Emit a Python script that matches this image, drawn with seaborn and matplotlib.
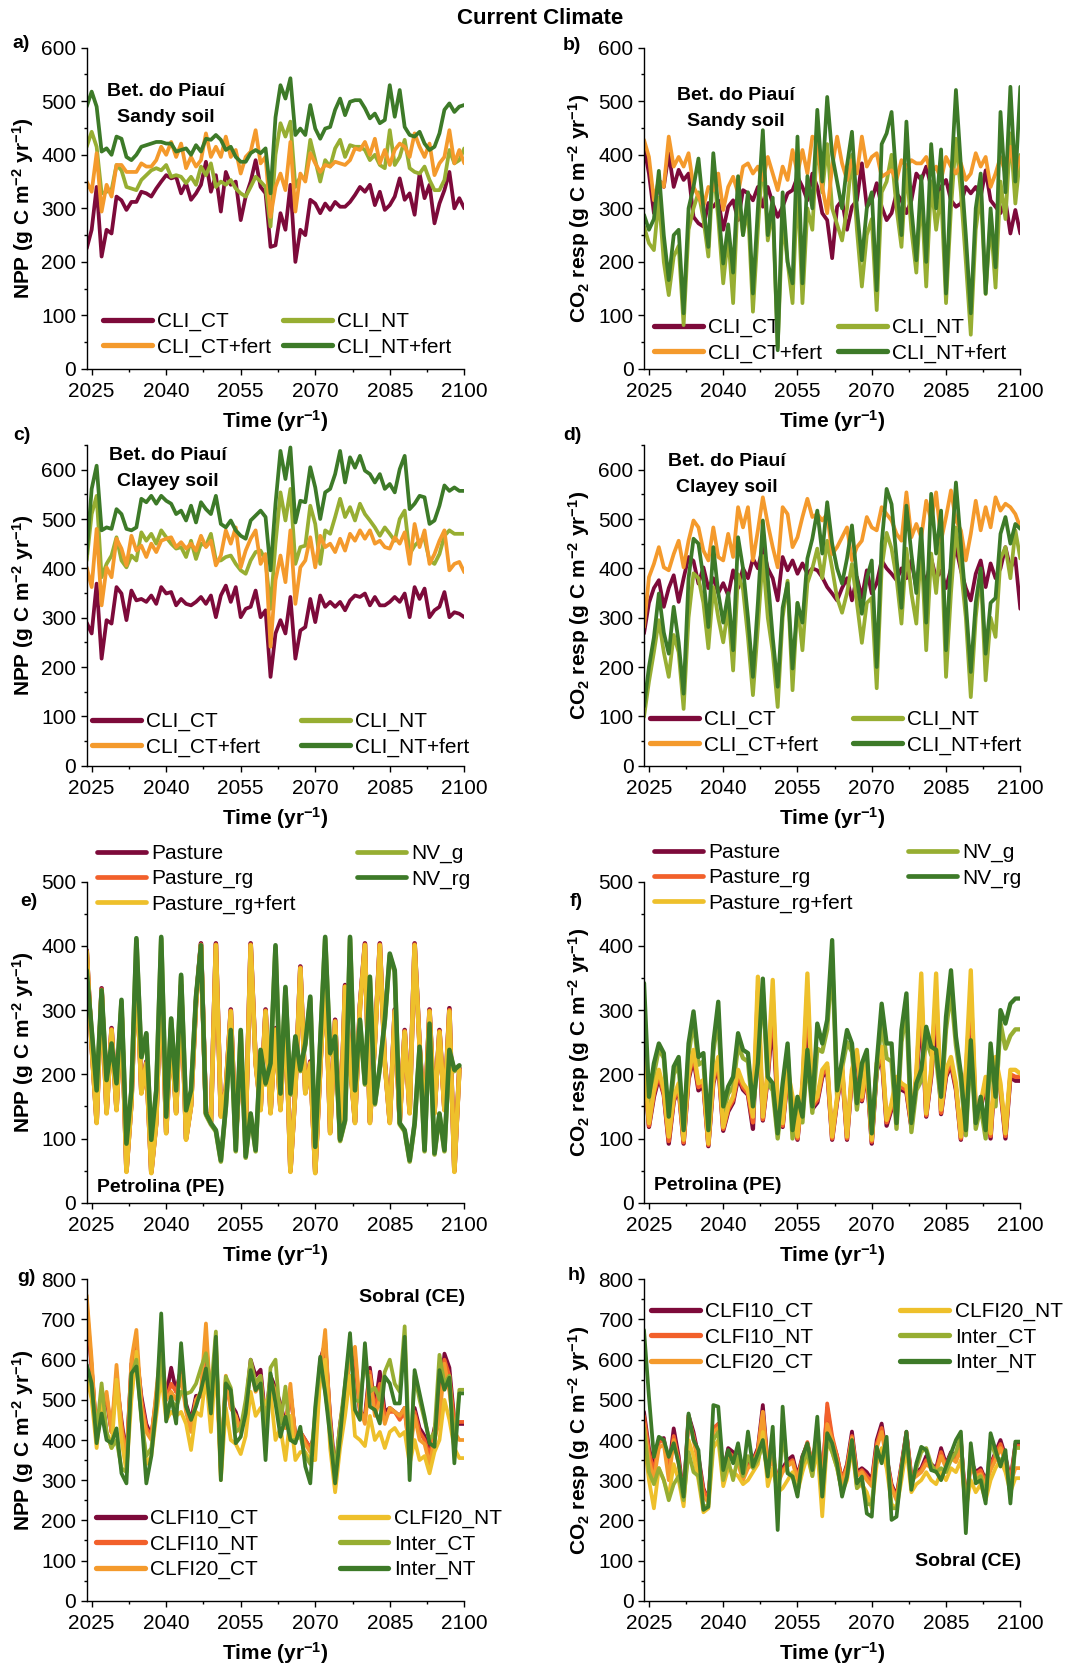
import numpy as np
import pandas as pd
import seaborn as sns
import matplotlib.pyplot as plt
from matplotlib.lines import Line2D
from matplotlib.ticker import MultipleLocator

# ---------------------------------------------------------------- data
years = list(range(2024, 2101))
years_e = list(range(2024, 2100))

# a) NPP, Bet. do Piaui, sandy soil
a_ct = [225,260,340,210,260,253,322,315,297,312,312,331,328,322,337,350,362,356,359,328,
        347,316,328,344,387,331,362,294,368,344,350,278,322,350,390,340,328,228,231,291,
        260,344,200,260,250,316,309,291,309,297,312,303,303,312,325,340,331,344,306,331,
        297,306,322,356,316,328,288,365,319,344,272,309,334,368,300,319,300]
a_ctf = [350,331,403,294,344,322,381,381,368,368,368,384,378,378,390,415,400,424,396,421,
         375,396,378,390,440,396,415,396,434,396,409,365,396,406,446,384,396,284,340,365,
         334,424,294,365,350,403,384,368,381,378,387,384,381,390,412,409,424,400,430,384,
         409,381,409,421,415,396,440,415,396,421,362,384,396,446,384,409,384]
a_nt = [415,443,415,328,331,334,381,371,340,337,334,353,362,371,375,371,381,359,362,359,
        347,359,344,378,362,384,340,350,344,353,337,328,322,340,359,350,340,266,400,459,
        434,462,340,359,356,428,390,350,390,378,412,428,396,418,415,415,409,390,400,381,
        375,446,381,396,428,375,368,365,378,353,334,334,353,409,384,390,412]
a_ntf = [490,518,490,406,412,400,434,430,396,390,400,415,418,421,424,424,421,421,406,409,
         412,400,418,406,430,428,437,428,409,415,396,387,387,403,409,403,412,328,470,530,
         505,543,437,449,437,493,449,430,449,452,484,505,474,499,502,502,487,468,477,459,
         465,530,471,521,452,437,434,443,421,409,415,440,484,496,480,490,493]

# b) CO2 resp, Bet. do Piaui, sandy soil
b_ct = [415,365,291,353,340,403,340,372,353,365,284,272,266,310,303,315,260,303,315,278,
        334,328,315,340,303,340,309,284,303,328,334,359,340,315,365,340,291,278,207,303,
        315,260,303,315,384,303,315,347,303,278,291,328,315,291,315,365,353,378,340,315,
        340,353,315,303,309,340,328,340,322,371,315,303,291,315,253,297,253]
b_ctf = [428,396,315,353,340,434,378,396,378,403,340,322,303,340,334,365,297,340,359,328,
         378,384,365,378,353,396,365,334,378,353,409,365,409,365,434,428,340,291,378,434,
         384,353,390,365,434,378,396,403,359,365,371,353,390,378,390,384,384,396,365,378,
         353,396,378,365,384,353,365,403,378,396,340,365,396,365,415,365,396]
b_nt = [266,235,222,320,200,138,210,230,82,260,300,330,280,210,380,280,160,250,123,330,
        250,300,107,260,400,240,300,40,280,200,123,350,123,300,260,430,330,420,300,270,
        240,300,400,260,154,250,280,110,330,350,400,300,228,380,260,180,330,154,350,260,
        330,123,300,430,330,200,64,260,330,140,280,152,350,280,440,309,400]
b_ntf = [288,260,280,370,250,166,250,260,104,300,340,393,300,228,403,300,197,270,180,360,
         250,330,141,300,446,250,320,35,330,200,160,434,160,360,300,484,350,508,400,350,
         300,380,443,300,203,300,330,147,420,440,480,350,250,462,300,203,360,200,420,300,
         410,141,350,521,380,250,104,300,365,141,300,190,480,330,527,350,527]

# c) NPP, Bet. do Piaui, clayey soil
c_ct = [290,268,369,217,295,288,362,349,295,355,335,338,332,345,328,362,349,352,325,338,
        328,325,332,342,328,345,301,345,365,332,362,301,318,322,355,301,315,180,268,295,
        268,342,217,274,281,338,291,345,322,332,322,332,315,335,345,342,349,325,342,325,
        325,332,342,332,349,301,362,338,359,301,315,322,352,301,311,308,301]
c_ctf = [402,362,480,325,402,382,460,440,406,466,436,446,423,450,433,456,460,463,443,453,
         440,450,436,466,443,456,406,426,477,450,483,402,436,460,477,409,429,241,376,426,
         372,477,328,402,416,463,402,466,443,450,433,460,436,470,456,477,460,477,450,456,
         443,440,463,450,473,409,490,443,477,409,429,456,477,396,409,413,392]
c_nt = [416,510,547,382,409,426,463,416,402,426,416,473,456,470,450,477,463,450,440,443,
        423,456,419,450,446,470,416,416,423,426,409,396,389,416,433,436,416,318,450,554,
        497,561,409,443,446,527,490,409,477,470,504,541,504,524,497,531,510,497,483,466,
        483,470,456,500,517,429,446,456,460,416,409,429,466,477,470,470,470]
c_ntf = [429,561,608,477,483,480,520,510,480,477,483,541,534,547,531,547,537,531,510,517,
         497,527,493,534,520,510,547,490,483,497,477,466,460,497,507,517,504,396,531,638,
         581,645,493,537,534,605,564,500,554,561,591,638,574,625,604,628,598,591,574,591,
         561,571,554,601,628,520,531,547,544,490,497,527,568,557,564,557,557]

# d) CO2 resp, Bet. do Piaui, clayey soil
d_ct = [268,330,360,376,322,360,386,332,380,423,415,369,402,360,380,350,370,345,396,360,
        400,380,420,400,443,400,380,335,423,396,416,389,410,389,400,396,382,362,349,335,
        360,380,335,382,340,396,349,370,416,400,389,376,400,380,416,360,400,370,420,380,
        396,360,400,443,396,360,335,389,416,362,410,380,400,443,400,420,318]
d_ctf = [281,382,409,443,402,396,429,456,402,456,497,483,436,416,483,423,416,470,423,524,
         483,524,416,477,544,490,443,402,524,510,443,463,504,541,504,510,497,510,429,443,
         463,483,416,443,456,504,483,477,524,510,497,470,456,554,463,490,463,537,497,554,
         456,504,558,497,477,416,470,537,477,524,483,544,517,531,524,510,483]
d_nt = [99,170,230,295,230,180,265,230,115,300,390,380,330,238,362,300,250,320,193,388,
        357,260,143,280,425,300,230,119,300,375,153,330,234,370,400,440,380,456,400,340,
        310,350,409,330,249,330,340,157,400,472,440,380,288,440,350,288,447,234,430,350,
        463,180,350,483,400,300,139,300,395,173,300,261,420,443,380,477,420]
d_ntf = [120,200,260,349,270,227,322,250,146,380,460,450,380,281,443,350,290,350,234,463,
         400,300,180,330,497,380,260,160,320,370,197,330,290,420,460,517,430,534,450,400,
         369,420,487,380,308,380,416,200,450,561,530,420,320,527,430,350,480,290,551,430,
         517,234,420,574,450,330,190,330,400,227,330,340,470,504,450,490,480]

# e) NPP, Petrolina (2024-2099)
e_past = [393,245,126,334,141,272,146,303,50,157,376,172,220,48,126,365,110,272,141,339,
          100,152,313,404,141,126,404,136,177,301,100,230,115,404,220,146,301,141,272,146,
          301,50,177,368,172,220,48,210,365,110,285,100,339,220,126,308,404,126,251,404,
          220,126,301,126,269,141,404,246,126,301,141,269,146,303,50,210]
e_rg = [392,244,125,332,140,270,145,301,49,156,374,171,218,47,125,363,109,270,140,337,
        99,151,311,402,140,125,402,135,176,299,99,228,114,402,218,145,299,140,270,145,
        299,49,176,366,171,218,47,208,363,109,283,99,337,218,125,306,402,125,249,402,
        218,125,299,125,267,140,402,244,125,299,140,267,145,300,49,208]
e_rgf = [391,243,124,331,139,269,144,300,48,155,373,170,217,46,124,362,108,269,139,336,
         98,150,310,401,139,124,401,134,175,298,98,227,113,401,217,144,298,139,269,144,
         298,48,175,365,170,217,46,207,362,108,282,98,336,217,124,305,401,124,248,401,
         217,124,298,124,266,139,401,243,124,298,139,266,144,298,48,207]
e_nvg = [360,266,172,328,189,246,184,313,90,173,409,225,262,96,173,411,132,285,173,352,
         142,173,318,398,137,122,111,64,148,266,80,266,70,137,80,236,184,215,398,168,
         333,168,257,205,246,318,85,248,411,231,257,96,127,411,173,283,184,349,153,210,
         283,385,359,122,111,64,122,241,80,276,75,137,80,236,205,212]
e_nvrg = [362,269,175,331,191,248,186,316,92,175,412,227,264,98,175,414,134,287,175,355,
          144,175,321,401,139,124,113,66,150,269,82,269,72,139,82,238,186,217,401,170,
          336,170,259,207,248,321,87,250,414,233,259,98,129,414,175,285,186,352,155,212,
          285,388,362,124,113,66,124,243,82,279,77,139,82,238,207,214]

# f) CO2 resp, Petrolina
f_past = [215,118,165,195,168,92,158,178,92,192,225,175,182,88,186,215,112,142,156,195,
          176,168,115,300,128,196,290,146,118,196,150,98,176,300,146,156,196,206,98,158,
          206,98,196,225,158,205,92,205,230,120,146,186,176,172,118,190,300,134,196,290,
          138,196,215,176,98,196,300,138,146,186,100,215,176,100,196,190,190]
f_rg = [220,120,170,200,170,96,160,182,94,196,232,180,186,90,190,220,115,146,160,200,
        180,170,125,330,130,200,320,150,120,200,156,100,180,330,150,160,200,212,100,160,
        210,100,200,232,160,210,95,210,236,125,150,190,180,176,120,196,330,136,200,330,
        140,200,220,180,100,200,330,140,150,190,104,220,180,104,200,196,196]
f_rgf = [227,124,175,207,175,103,165,186,98,201,238,186,191,92,196,227,118,150,165,207,
         186,175,134,352,134,207,347,155,124,207,165,103,186,357,155,165,207,217,103,165,
         217,103,207,238,165,217,98,217,243,129,155,196,186,181,124,201,357,139,207,357,
         145,207,227,186,103,207,362,145,155,196,108,227,186,108,207,207,201]
f_nvg = [300,150,200,240,225,125,200,215,108,230,285,215,220,105,235,290,140,170,180,245,
         225,220,140,230,330,185,175,100,175,235,100,155,125,230,140,240,235,270,380,165,
         210,250,235,145,205,225,100,205,280,225,220,115,250,300,110,175,190,255,230,225,
         155,270,330,245,190,105,240,115,150,100,235,150,280,240,260,270,270]
f_nvrg = [342,165,217,248,233,134,212,227,113,248,298,227,233,113,248,313,150,181,196,264,
          238,233,150,217,349,196,186,108,186,248,113,165,134,238,150,279,248,285,409,175,
          222,269,248,155,217,238,108,217,310,248,248,124,269,326,124,186,207,274,243,238,
          165,290,362,259,201,113,253,124,165,113,248,165,300,279,310,318,318]

# g) NPP, Sobral
g_c10ct = [720,580,420,470,500,420,550,450,360,590,620,510,440,410,500,600,510,580,520,580,
           490,450,510,510,640,500,620,330,540,490,470,430,480,600,560,575,450,560,530,490,
           440,520,410,420,400,380,420,600,640,460,320,440,520,600,600,470,460,580,480,570,
           470,480,470,460,480,380,480,430,410,370,430,480,615,580,450,440,440]
g_c10nt = [740,580,410,470,510,420,560,440,350,580,630,500,430,410,510,620,500,540,520,570,
           480,440,500,510,650,490,630,320,550,480,460,420,480,590,540,560,440,550,520,480,
           430,520,410,420,400,380,410,570,650,450,310,430,530,600,610,470,450,570,470,540,
           460,470,470,450,470,370,470,420,400,360,420,470,600,560,440,445,445]
g_c20ct = [760,600,400,480,520,420,587,430,340,600,674,480,420,400,520,640,500,520,500,560,
           470,420,500,520,690,480,640,310,560,480,460,420,470,580,520,540,430,550,520,480,
           430,540,400,420,390,370,400,560,674,440,300,420,520,600,632,480,440,560,460,500,
           440,480,470,460,480,360,460,400,390,340,400,450,590,520,420,400,400]
g_c20nt = [560,500,380,500,420,380,550,400,320,500,620,470,340,360,460,560,450,470,460,470,
           440,375,470,460,560,420,600,300,480,400,390,365,410,520,460,480,490,520,400,430,
           350,460,350,370,370,350,350,560,600,380,270,380,460,560,410,400,385,460,400,420,
           380,420,430,410,420,340,400,350,360,317,370,400,500,450,380,355,355]
g_ict = [587,530,420,541,420,380,400,330,320,560,600,450,360,380,480,610,470,500,480,520,
         515,520,540,580,616,520,670,330,558,530,420,430,500,600,540,560,420,580,600,440,
         533,400,400,410,360,340,470,590,520,430,320,440,540,640,500,495,600,520,530,500,
         570,600,540,520,683,340,560,500,450,400,420,612,540,560,380,525,525]
g_int = [587,541,392,466,400,392,429,317,292,566,583,458,292,359,483,715,446,508,441,641,
         483,450,483,524,578,466,657,300,541,524,392,408,466,574,524,541,350,566,491,408,
         458,400,392,433,334,292,483,607,516,408,292,408,541,666,475,450,641,483,475,441,
         558,541,491,491,657,300,574,516,458,392,383,574,525,555,342,516,516]

# h) CO2 resp, Sobral
h_c10ct = [470,380,330,400,405,330,429,360,260,462,420,360,280,250,420,440,320,380,370,360,
           320,340,350,380,487,340,360,300,330,350,360,310,360,390,340,420,300,480,400,360,
           300,340,421,320,330,320,300,400,441,360,290,260,340,420,310,320,330,360,340,330,
           380,340,370,360,400,240,350,320,330,300,340,370,400,360,300,390,390]
h_c10nt = [460,370,320,395,400,320,410,350,255,455,410,350,275,250,430,440,315,370,360,350,
           315,335,345,375,470,335,355,295,325,340,350,305,355,395,340,420,300,491,410,360,
           300,335,410,315,325,310,295,390,430,355,285,255,335,420,305,315,325,350,335,325,
           370,335,365,355,395,235,345,315,325,295,335,365,390,355,295,385,385]
h_c20ct = [440,350,300,380,390,300,400,340,245,460,400,340,260,245,420,430,305,360,350,340,
           300,330,340,370,470,325,350,290,320,335,345,300,350,390,335,410,290,440,400,350,
           290,330,405,310,320,300,285,380,420,350,280,250,330,410,300,310,320,340,330,320,
           360,330,355,345,380,230,335,310,315,285,325,350,380,345,290,330,330]
h_c20nt = [400,300,230,330,300,260,340,300,235,400,360,300,220,230,380,400,285,330,320,310,
           290,300,320,340,420,285,330,270,280,300,320,270,320,360,310,380,210,400,370,330,
           270,300,380,280,290,270,230,340,380,330,240,230,300,380,270,290,300,320,300,290,
           320,300,330,320,350,230,300,270,290,250,300,330,350,320,270,305,305]
h_ict = [430,320,290,330,300,250,290,310,250,370,320,310,230,240,400,420,300,350,300,360,
         310,360,330,350,390,320,400,250,420,320,310,270,340,370,310,420,260,400,370,330,
         270,310,390,280,300,240,240,370,350,380,230,230,330,400,290,330,370,380,340,320,
         330,320,350,370,410,200,370,300,310,260,400,360,350,360,260,380,380]
h_int = [674,508,358,408,400,358,392,342,259,466,400,375,226,234,487,483,325,375,342,392,
         317,421,334,367,400,309,433,176,483,317,309,259,358,392,325,458,259,417,392,342,
         259,309,400,292,309,217,209,383,342,408,201,209,325,421,276,342,383,375,325,321,
         300,334,367,400,421,168,392,292,300,242,417,375,334,375,242,396,396]

# series names and colours
cli_names = ["CLI_CT", "CLI_NT", "CLI_CT+fert", "CLI_NT+fert"]
cli_legend = ["CLI_CT", "CLI_CT+fert", "CLI_NT", "CLI_NT+fert"]
pas_names = ["Pasture", "Pasture_rg", "NV_g", "Pasture_rg+fert", "NV_rg"]
pas_legend = ["Pasture", "Pasture_rg", "Pasture_rg+fert", "NV_g", "NV_rg"]
sob_names = ["CLFI10_CT", "CLFI10_NT", "CLFI20_CT", "CLFI20_NT", "Inter_CT", "Inter_NT"]
sob_legend = sob_names

MAROON, OLIVE, ORANGE, DGREEN = "#7D0A3A", "#97AE32", "#F49A2C", "#3D7A28"
REDOR, YELLOW = "#F2602B", "#EEC02B"
colors = {"CLI_CT": MAROON, "CLI_NT": OLIVE, "CLI_CT+fert": ORANGE, "CLI_NT+fert": DGREEN,
          "Pasture": MAROON, "Pasture_rg": REDOR, "Pasture_rg+fert": YELLOW,
          "NV_g": OLIVE, "NV_rg": DGREEN,
          "CLFI10_CT": MAROON, "CLFI10_NT": REDOR, "CLFI20_CT": ORANGE,
          "CLFI20_NT": YELLOW, "Inter_CT": OLIVE, "Inter_NT": DGREEN}

# ---------------------------------------------------------------- style
sns.set_theme(style="ticks", rc={"axes.edgecolor": "black", "xtick.color": "black",
                                 "ytick.color": "black", "axes.linewidth": 1.0,
                                 "text.color": "black", "axes.labelcolor": "black",
                                 "lines.solid_joinstyle": "round",
                                 "lines.solid_capstyle": "round"})
plt.rcParams["font.family"] = ["Liberation Sans", "DejaVu Sans"]
plt.rcParams["mathtext.fontset"] = "custom"
plt.rcParams["mathtext.rm"] = "Liberation Sans"
plt.rcParams["mathtext.bf"] = "Liberation Sans:bold"
plt.rcParams["mathtext.it"] = "Liberation Sans:italic"

W, H = 1081, 1664
fig = plt.figure(figsize=(W / 100, H / 100), dpi=100)

NPP_LABEL = r"NPP (g C m$^{\mathbf{-2}}$ yr$^{\mathbf{-1}}$)"
CO2_LABEL = r"CO$_{\mathbf{2}}$ resp (g C m$^{\mathbf{-2}}$ yr$^{\mathbf{-1}}$)"
TIME_LABEL = r"Time (yr$^{\mathbf{-1}}$)"


def make_axes(left, top, right, bottom):
    return fig.add_axes([left / W, 1 - bottom / H, (right - left) / W, (bottom - top) / H])


def panel(box, xs, data, names, legend_names, ymax, ylabel, lw, leg_pos,
          colspace, handle_lw, ylab_x):
    ax = make_axes(*box)
    df = pd.DataFrame({
        "Year": np.tile(xs, len(names)),
        "Value": np.concatenate([data[n] for n in names]),
        "Series": np.repeat(names, len(xs)),
    })
    sns.lineplot(data=df, x="Year", y="Value", hue="Series", hue_order=names,
                 palette=[colors[n] for n in names], linewidth=lw, estimator=None,
                 legend=False, ax=ax)
    ax.set_xlim(2024, 2100)
    ax.set_ylim(0, ymax)
    ax.set_xticks([2025, 2040, 2055, 2070, 2085, 2100])
    ax.set_xticks(np.arange(2032.5, 2100, 15), minor=True)
    ax.yaxis.set_major_locator(MultipleLocator(100))
    ax.yaxis.set_minor_locator(MultipleLocator(50))
    ax.tick_params(which="major", direction="out", length=4, width=1, labelsize=15, pad=3.5)
    ax.tick_params(axis="x", which="major", pad=5.5)
    ax.tick_params(which="minor", direction="out", length=2.5, width=1)
    sns.despine(ax=ax)
    ax.set_xlabel(TIME_LABEL, fontsize=15, fontweight="bold", labelpad=5)
    ax.set_ylabel(ylabel, fontsize=15, fontweight="bold")
    ax.yaxis.set_label_coords(ylab_x, 0.5)
    handles = [Line2D([0], [0], color=colors[n], lw=handle_lw) for n in legend_names]
    leg = ax.legend(handles, legend_names, ncol=2, loc="upper left",
                    bbox_to_anchor=(leg_pos[0] / W, 1 - leg_pos[1] / H),
                    bbox_transform=fig.transFigure, frameon=False, fontsize=15,
                    handlelength=2.35, handletextpad=0.25, columnspacing=colspace,
                    labelspacing=0.3, borderpad=0, borderaxespad=0)
    leg.set_zorder(1.5)
    return ax


L_BOX = (86.7, 464.3)
R_BOX = (644.0, 1020.3)

pa = dict(zip(cli_names, [a_ct, a_nt, a_ctf, a_ntf]))
pb = dict(zip(cli_names, [b_ct, b_nt, b_ctf, b_ntf]))
pc = dict(zip(cli_names, [c_ct, c_nt, c_ctf, c_ntf]))
pd_ = dict(zip(cli_names, [d_ct, d_nt, d_ctf, d_ntf]))
pe = dict(zip(pas_names, [e_past, e_rg, e_nvg, e_rgf, e_nvrg]))
pf = dict(zip(pas_names, [f_past, f_rg, f_nvg, f_rgf, f_nvrg]))
pg = dict(zip(sob_names, [g_c10ct, g_c10nt, g_c20ct, g_c20nt, g_ict, g_int]))
ph = dict(zip(sob_names, [h_c10ct, h_c10nt, h_c20ct, h_c20nt, h_ict, h_int]))

panel((L_BOX[0], 47.7, L_BOX[1], 369), years, pa, cli_names, cli_legend, 600, NPP_LABEL,
      2.7, (103, 312), 0.58, 3.8, -0.134)
panel((R_BOX[0], 47.7, R_BOX[1], 369), years, pb, cli_names, cli_legend, 600, CO2_LABEL,
      2.7, (654, 318), 0.77, 3.8, -0.139)
panel((L_BOX[0], 445, L_BOX[1], 765.7), years, pc, cli_names, cli_legend, 650, NPP_LABEL,
      2.7, (91.7, 712), 1.97, 3.8, -0.134)
panel((R_BOX[0], 445, R_BOX[1], 765.7), years, pd_, cli_names, cli_legend, 650, CO2_LABEL,
      2.7, (650, 710), 1.68, 3.8, -0.139)
panel((L_BOX[0], 881.7, L_BOX[1], 1202.7), years_e, pe, pas_names, pas_legend, 500,
      NPP_LABEL, 3.3, (96.7, 844), 2.95, 3.4, -0.134)
panel((R_BOX[0], 881.7, R_BOX[1], 1202.7), years, pf, pas_names, pas_legend, 500,
      CO2_LABEL, 3.1, (654, 843), 2.65, 3.4, -0.139)
panel((L_BOX[0], 1279.3, L_BOX[1], 1600.7), years, pg, sob_names, sob_legend, 800,
      NPP_LABEL, 2.7, (96, 1509), 3.9, 3.8, -0.134)
panel((R_BOX[0], 1279.3, R_BOX[1], 1600.7), years, ph, sob_names, sob_legend, 800,
      CO2_LABEL, 2.7, (650.7, 1302), 4.2, 3.8, -0.139)

# ---------------------------------------------------------------- text
def ftext(x, y, s, **kw):
    fig.text(x / W, 1 - y / H, s, **kw)

ftext(540, 18, "Current Climate", ha="center", va="center", fontsize=16, fontweight="bold")
for lab, x, y in [("a)", 12, 43), ("b)", 563, 45), ("c)", 13, 435), ("d)", 563, 435),
                  ("e)", 20, 901), ("f)", 570, 902), ("g)", 17, 1278), ("h)", 568, 1275)]:
    ftext(x, y, lab, ha="left", va="center", fontsize=14, fontweight="bold")

bold14 = dict(va="center", fontsize=14, fontweight="bold")
ftext(166, 92, "Bet. do Piauí", ha="center", **bold14)
ftext(166, 117, "Sandy soil", ha="center", **bold14)
ftext(736, 95, "Bet. do Piauí", ha="center", **bold14)
ftext(736, 121, "Sandy soil", ha="center", **bold14)
ftext(168, 456, "Bet. do Piauí", ha="center", **bold14)
ftext(168, 482, "Clayey soil", ha="center", **bold14)
ftext(727, 462, "Bet. do Piauí", ha="center", **bold14)
ftext(727, 488, "Clayey soil", ha="center", **bold14)
ftext(97, 1187, "Petrolina (PE)", ha="left", **bold14)
ftext(654, 1185, "Petrolina (PE)", ha="left", **bold14)
ftext(465, 1298, "Sobral (CE)", ha="right", **bold14)
ftext(1021, 1561, "Sobral (CE)", ha="right", **bold14)

fig.savefig("out.png", dpi=100)
